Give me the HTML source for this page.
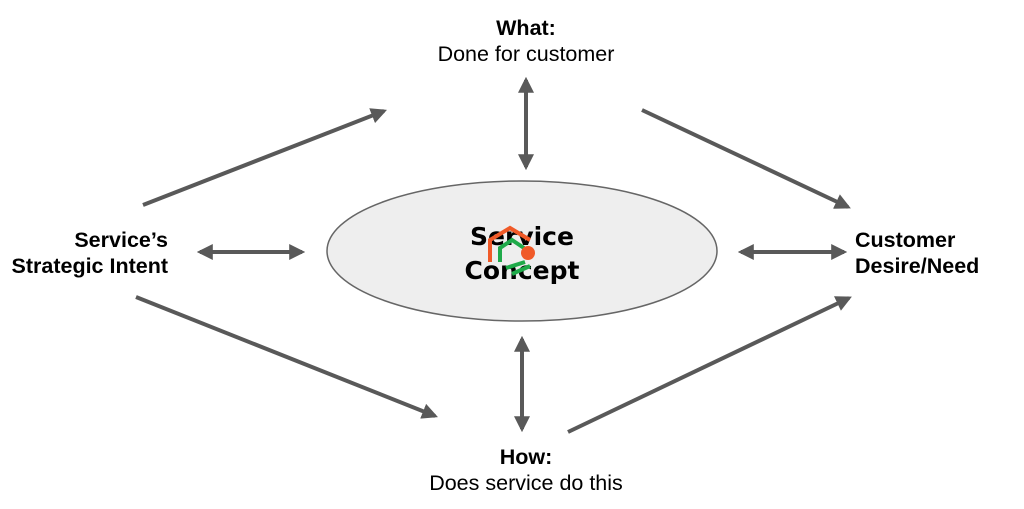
<!DOCTYPE html>
<html><head><style>
body{margin:0;background:#fff;}
svg{display:block}
</style></head><body>
<svg width="1024" height="509" viewBox="0 0 1024 509" xmlns="http://www.w3.org/2000/svg">
<defs>
<marker id="a" markerWidth="4" markerHeight="4" refX="3.2" refY="2" orient="auto-start-reverse" markerUnits="strokeWidth">
<path d="M0,0 L4,2 L0,4 z" fill="#595959"/>
</marker>
</defs>
<ellipse cx="522" cy="251" rx="195" ry="70" fill="#eeeeee" stroke="#666" stroke-width="1.5"/>
<g stroke="#595959" stroke-width="4" fill="none">
<line x1="143" y1="205" x2="384" y2="111" marker-end="url(#a)"/>
<line x1="642" y1="110" x2="848" y2="207" marker-end="url(#a)"/>
<line x1="136" y1="297" x2="435" y2="416" marker-end="url(#a)"/>
<line x1="568" y1="432" x2="849" y2="298" marker-end="url(#a)"/>
<line x1="526" y1="80" x2="526" y2="167" marker-start="url(#a)" marker-end="url(#a)"/>
<line x1="522" y1="339" x2="522" y2="429" marker-start="url(#a)" marker-end="url(#a)"/>
<line x1="200" y1="252" x2="302" y2="252" marker-start="url(#a)" marker-end="url(#a)"/>
<line x1="741" y1="252" x2="844" y2="252" marker-start="url(#a)" marker-end="url(#a)"/>
</g>
<g font-family="Liberation Sans, sans-serif" font-size="21.5" fill="#000">
<text x="526" y="35" text-anchor="middle" font-weight="bold">What:</text>
<text x="526" y="61" text-anchor="middle">Done for customer</text>
<text x="526" y="464" text-anchor="middle" font-weight="bold">How:</text>
<text x="526" y="490" text-anchor="middle">Does service do this</text>
<text x="168" y="247" text-anchor="end" font-weight="bold">Service’s</text>
<text x="168" y="273" text-anchor="end" font-weight="bold">Strategic Intent</text>
<text x="855" y="247" font-weight="bold">Customer</text>
<text x="855" y="273" font-weight="bold">Desire/Need</text>
</g>
<g font-family="DejaVu Sans, sans-serif" font-size="25" font-weight="bold" fill="#000" text-anchor="middle">
<text x="522" y="245">Service</text>
<text x="522" y="279">Concept</text>
</g>
<g stroke-width="4" fill="none">
<path d="M490,262 L490,240 L510,228 L530,240" stroke="#f05a28"/>
<path d="M500,262 L500,248 L512,240 L524,248" stroke="#1faa4a"/>
<path d="M506,268 L525,262 M512,274 L530,266" stroke="#1faa4a"/>
</g>
<circle cx="528" cy="253" r="7" fill="#f05a28"/>
</svg>
</body></html>
